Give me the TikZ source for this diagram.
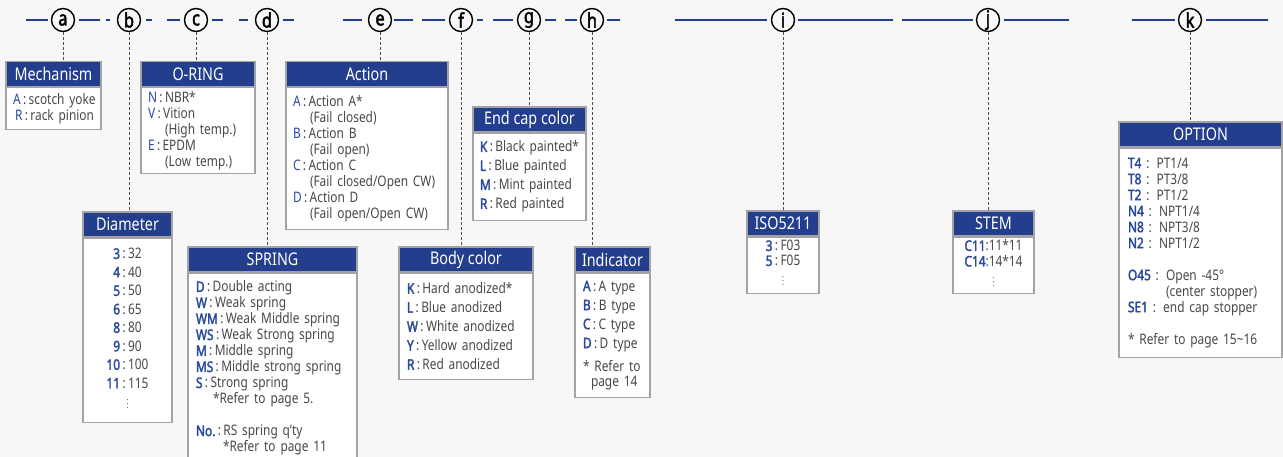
\documentclass[tikz,border=0pt]{standalone}
\usepackage{fontspec}
\setmainfont{Noto Sans}[FakeStretch=0.82, BoldFont=*, BoldFeatures={FakeBold=2.2}]
\usetikzlibrary{positioning}

\definecolor{navy}{HTML}{233E8C}
\definecolor{keyblue}{HTML}{2B4A9E}
\definecolor{txtgray}{HTML}{484848}
\definecolor{framegray}{HTML}{A3A3A3}
\definecolor{paper}{HTML}{F7F7F7}

\newcommand{\ky}[1]{{\color{keyblue}#1}}
\newcommand{\kb}[1]{{\color{keyblue}\bfseries #1}}
\newcommand{\ind}{\hspace*{17pt}}
\newcommand{\bodysize}[1]{\fontsize{14.5}{#1}\selectfont}
\newcommand{\more}{{\fontsize{9}{9}\selectfont$\vdots$}}

\tikzset{
  code/.style={circle, draw=black, line width=1.4pt, fill=paper, inner sep=0pt,
    minimum size=23pt, font=\fontsize{20}{20}\selectfont\bfseries},
  bar/.style={draw=navy, line width=2pt},
  link/.style={draw=black!70, line width=0.9pt, dash pattern=on 3pt off 2pt},
  head/.style={fill=navy, draw=framegray, line width=1.2pt, text=white,
    minimum height=25pt, inner sep=0pt, font=\fontsize{17.5}{17.5}\selectfont},
  body/.style={fill=white, draw=framegray, line width=1.2pt, text=txtgray,
    inner xsep=7pt, inner ysep=0pt, align=left, font=\bodysize{16}},
}

\begin{document}
\begin{tikzpicture}[x=1pt, y=-1pt]
  \useasboundingbox[fill=paper] (0,0) rectangle (1283,457);
  \clip (0,0) rectangle (1283,457);

  % code line
  \foreach \p/\q in {26/48, 79/100, 106/110, 146/152, 167/180, 212/223, 239/248,
      283/294, 343/362, 394/413, 422/445, 477/483, 493/513, 545/556, 565/577,
      607/620, 675/767, 798/893, 902/973, 1004/1069, 1132/1175, 1206/1268}
    \draw[bar] (\p,20) -- (\q,20);
  \foreach \l/\x in {a/63, b/129, c/196, d/267, e/380, f/461, g/529, h/592,
      i/783, j/988, k/1190}
    \node[code] (\l) at (\x,20) {\l};

  % Mechanism
  \node[head, minimum width=95pt] (mech) at (53.5,74) {Mechanism};
  \node[body, text width=81pt, minimum height=42pt, below=0pt of mech] (mechB)
    {\ky{A}\,:\,scotch~yoke\\ \hspace*{2pt}\ky{R}\,:\,rack~pinion};

  % Diameter
  \node[head, minimum width=89pt] (dia) at (127.5,224.5) {Diameter};
  \node[body, text width=75pt, minimum height=184pt, align=center,
    font=\bodysize{18.5}, below=0pt of dia] (diaB)
    {\begin{tabular}{@{}r@{\,:\,}l@{}}
      \kb{3}&32\\ \kb{4}&40\\ \kb{5}&50\\ \kb{6}&65\\ \kb{8}&80\\
      \kb{9}&90\\ \kb{10}&100\\ \kb{11}&115\\ \multicolumn{2}{c}{\more}
     \end{tabular}};

  % O-RING
  \node[head, minimum width=114pt] (oring) at (198,74) {O-RING};
  \node[body, text width=100pt, minimum height=86pt, below=0pt of oring] (oringB)
    {\ky{N}\,:\,NBR*\\ \ky{V}\,:\,Vition\\ \ind(High temp.)\\
     \ky{E}\,:\,EPDM\\ \ind(Low temp.)};

  % SPRING
  \node[head, minimum width=169pt] (spring) at (272.5,259.5) {SPRING};
  \node[body, text width=153pt, inner xsep=8pt, minimum height=190pt,
    below=0pt of spring] (springB)
    {\kb{D}\,:\,Double acting\\ \kb{W}\,:\,Weak spring\\
     \kb{WM}\,:\,Weak Middle spring\\ \kb{WS}\,:\,Weak Strong spring\\
     \kb{M}\,:\,Middle spring\\ \kb{MS}\,:\,Middle strong spring\\
     \kb{S}\,:\,Strong spring\\ \ind*Refer to page 5.\\[16pt]
     \kb{No.}\,:\,RS spring q'ty\\ \hspace*{27pt}*Refer to page 11};

  % Action
  \node[head, minimum width=162pt] (act) at (367,74) {Action};
  \node[body, text width=148pt, minimum height=142pt, below=0pt of act] (actB)
    {\ky{A}\,:\,Action A*\\ \ind(Fail closed)\\ \ky{B}\,:\,Action B\\
     \ind(Fail open)\\ \ky{C}\,:\,Action C\\ \ind(Fail closed/Open CW)\\
     \ky{D}\,:\,Action D\\ \ind(Fail open/Open CW)};

  % Body color
  \node[head, minimum width=134pt] (bcol) at (466,259.5) {Body color};
  \node[body, text width=118pt, inner xsep=8pt, minimum height=106pt,
    font=\bodysize{19}, below=0pt of bcol] (bcolB)
    {\kb{K}\,:\,Hard anodized*\\ \kb{L}\,:\,Blue anodized\\
     \kb{W}\,:\,White anodized\\ \kb{Y}\,:\,Yellow anodized\\
     \kb{R}\,:\,Red anodized};

  % End cap color
  \node[head, minimum width=113pt] (ecap) at (529.5,119.5) {End cap color};
  \node[body, text width=99pt, minimum height=87pt, font=\bodysize{19},
    below=0pt of ecap] (ecapB)
    {\kb{K}\,:\,Black~painted*\\ \kb{L}\,:\,Blue painted\\
     \kb{M}\,:\,Mint painted\\ \kb{R}\,:\,Red painted};

  % Indicator
  \node[head, minimum width=75pt] (ind) at (612.5,259.5) {Indicator};
  \node[body, text width=59pt, inner xsep=8pt, minimum height=124pt,
    font=\bodysize{19}, below=0pt of ind] (indB)
    {\kb{A}\,:\,A type\\ \kb{B}\,:\,B type\\ \kb{C}\,:\,C type\\
     \kb{D}\,:\,D type\\[4pt] * Refer to\\[-4pt] \hspace*{8pt}page 14};

  % ISO5211
  \node[head, minimum width=72pt] (iso) at (783,223.5) {ISO5211};
  \node[body, text width=58pt, minimum height=56pt, align=center,
    font=\bodysize{15}, below=0pt of iso] (isoB)
    {\begin{tabular}{@{}r@{\,:\,}l@{}}
      \kb{3}&F03\\ \kb{5}&F05\\ \multicolumn{2}{c}{\more}
     \end{tabular}};

  % STEM
  \node[head, minimum width=81pt] (stem) at (993.5,223.5) {STEM};
  \node[body, text width=67pt, minimum height=56pt, align=center,
    font=\bodysize{15}, below=0pt of stem] (stemB)
    {\begin{tabular}{@{}r@{:}l@{}}
      \kb{C11}&11*11\\ \kb{C14}&14*14\\ \multicolumn{2}{c}{\more}
     \end{tabular}};

  % OPTION
  \node[head, minimum width=163pt] (opt) at (1200.5,134.5) {OPTION};
  \node[body, text width=145pt, inner xsep=9pt, minimum height=209pt,
    below=0pt of opt] (optB)
    {\kb{T4} : PT1/4\\ \kb{T8} : PT3/8\\ \kb{T2} : PT1/2\\
     \kb{N4} : NPT1/4\\ \kb{N8} : NPT3/8\\ \kb{N2} : NPT1/2\\[16pt]
     \kb{O45} : Open -45°\\ \phantom{\kb{O45} : }(center stopper)\\
     \kb{SE1} : end cap stopper\\[16pt]
     * Refer to page 15\textasciitilde16};

  % leaders
  \draw[link] (a) -- (a |- mech.north);
  \draw[link] (b) -- (b |- dia.north);
  \draw[link] (c) -- (c |- oring.north);
  \draw[link] (d) -- (d |- spring.north);
  \draw[link] (e) -- (e |- act.north);
  \draw[link] (f) -- (f |- bcol.north);
  \draw[link] (g) -- (g |- ecap.north);
  \draw[link] (h) -- (h |- ind.north);
  \draw[link] (i) -- (i |- iso.north);
  \draw[link] (j) -- (j |- stem.north);
  \draw[link] (k) -- (k |- opt.north);
\end{tikzpicture}
\end{document}
